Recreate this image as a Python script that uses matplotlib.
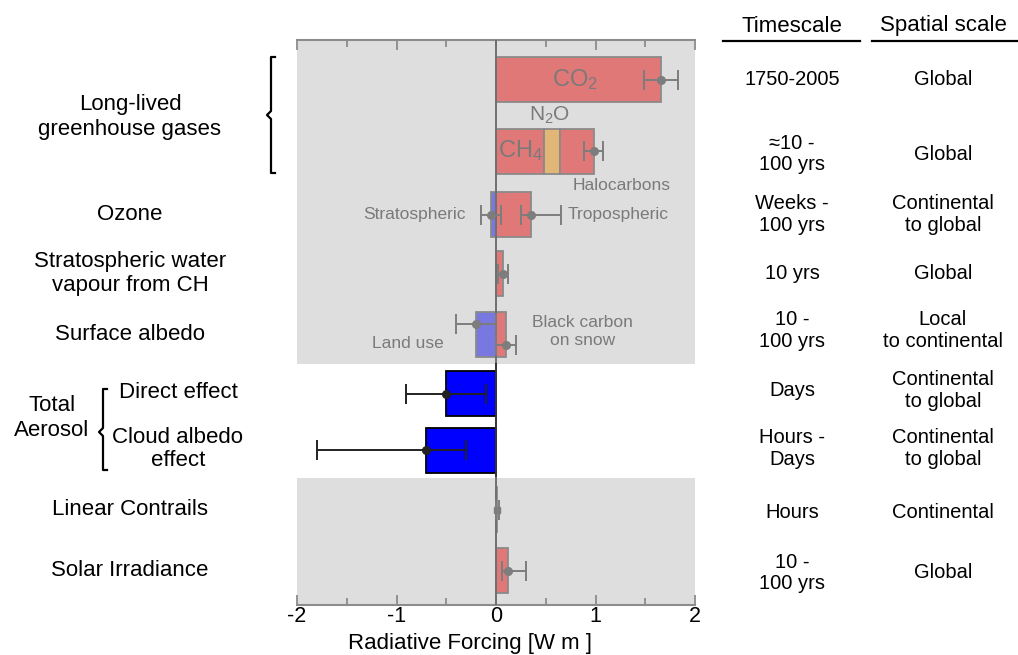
import numpy as np
import matplotlib
matplotlib.use("Agg")
import matplotlib.pyplot as plt
from matplotlib.transforms import blended_transform_factory
from matplotlib.lines import Line2D

plt.rcParams['font.family'] = ['Liberation Sans', 'DejaVu Sans']
plt.rcParams['mathtext.fontset'] = 'custom'
plt.rcParams['mathtext.rm'] = 'Liberation Sans'
plt.rcParams['mathtext.it'] = 'Liberation Sans'
plt.rcParams['axes.unicode_minus'] = False

# ---- radiative forcing values [W m-2] with uncertainty ranges (low, high) ----
co2 = 1.66
co2_range = (1.49, 1.83)

ghg_parts = ["CH$_4$", "N$_2$O", "Halocarbons"]
ghg_values = [0.48, 0.16, 0.34]
ghg_range = (0.88, 1.08)

ozone_strat = -0.05
ozone_strat_range = (-0.15, 0.05)
ozone_trop = 0.35
ozone_trop_range = (0.25, 0.65)

strat_h2o = 0.07
strat_h2o_range = (0.02, 0.12)

land_use = -0.20
land_use_range = (-0.40, 0.00)
bc_snow = 0.10
bc_snow_range = (0.00, 0.20)

aerosol_direct = -0.50
aerosol_direct_range = (-0.90, -0.10)
aerosol_cloud = -0.70
aerosol_cloud_range = (-1.80, -0.30)

contrails = 0.01
contrails_range = (0.003, 0.03)

solar = 0.12
solar_range = (0.06, 0.30)

row_labels = ["Long-lived\ngreenhouse gases", "Ozone", "Stratospheric water\nvapour from CH",
              "Surface albedo", "Linear Contrails", "Solar Irradiance"]
aerosol_labels = ["Direct effect", "Cloud albedo\neffect"]
timescales = ["1750-2005", "\u224810 -\n100 yrs", "Weeks -\n100 yrs", "10 yrs", "10 -\n100 yrs",
              "Days", "Hours -\nDays", "Hours", "10 -\n100 yrs"]
spatial_scales = ["Global", "Global", "Continental\nto global", "Global", "Local\nto continental",
                  "Continental\nto global", "Continental\nto global", "Continental", "Global"]
x_ticks = [-2, -1, 0, 1, 2]

# ---- layout ----
W, H = 1018, 655
fig = plt.figure(figsize=(W / 100, H / 100), dpi=100)
ax = fig.add_axes([297 / W, 1 - 605 / H, 398 / W, 565 / H])

# vertical row positions (axis units, top to bottom)
ypos = dict(co2=39.5, ghg=111, ozone=174.5, h2o=233.5, albedo=294.5,
            direct=353.5, cloud=410, contrails=469.5, solar=530.5)
table_y = [39.5, 114, 174.5, 233.5, 290.5, 350.5, 408.5, 472, 533]
bar_h = 45

RED = '#e07878'
TAN = '#e2b676'
LBLUE = '#7878e0'
BLUE = '#0000ff'
EDGE = '#8a8a8a'
GREY_TXT = '#7a7a7a'
ERR = '#7d7d7d'

ax.set_xlim(-2, 2)
ax.set_ylim(565, 0)
ax.axhspan(0, 324, color='#dedede', zorder=0, lw=0)
ax.axhspan(438, 565, color='#dedede', zorder=0, lw=0)


def err(x, y, rng, color=ERR):
    ax.errorbar([x], [y], xerr=[[x - rng[0]], [rng[1] - x]], fmt='o', color=color,
                ms=5.5, capsize=7, elinewidth=1.4, capthick=1.4, zorder=5)


bar_kw = dict(height=bar_h, edgecolor=EDGE, linewidth=1.3, zorder=3)

# CO2
ax.barh(ypos['co2'], co2, left=0, color=RED, **bar_kw)
err(co2, ypos['co2'], co2_range)

# CH4, N2O, halocarbons stacked
lefts = np.concatenate([[0], np.cumsum(ghg_values)[:-1]])
ax.barh([ypos['ghg']] * 3, ghg_values, left=lefts, color=[RED, TAN, RED], **bar_kw)
err(float(np.sum(ghg_values)), ypos['ghg'], ghg_range)

# Ozone
ax.barh(ypos['ozone'], ozone_strat, left=0, color=LBLUE, **bar_kw)
ax.barh(ypos['ozone'], ozone_trop, left=0, color=RED, **bar_kw)
err(ozone_strat, ypos['ozone'], ozone_strat_range)
err(ozone_trop, ypos['ozone'], ozone_trop_range)

# Stratospheric water vapour
ax.barh(ypos['h2o'], strat_h2o, left=0, color=RED, **bar_kw)
err(strat_h2o, ypos['h2o'], strat_h2o_range)

# Surface albedo
ax.barh(ypos['albedo'], land_use, left=0, color=LBLUE, **bar_kw)
ax.barh(ypos['albedo'], bc_snow, left=0, color=RED, **bar_kw)
err(land_use, ypos['albedo'] - 11, land_use_range)
err(bc_snow, ypos['albedo'] + 10, bc_snow_range)

# Aerosols
ax.barh(ypos['direct'], aerosol_direct, left=0, height=bar_h, color=BLUE,
        edgecolor='black', linewidth=1.3, zorder=3)
ax.barh(ypos['cloud'], aerosol_cloud, left=0, height=bar_h, color=BLUE,
        edgecolor='black', linewidth=1.3, zorder=3)
err(aerosol_direct, ypos['direct'], aerosol_direct_range, color='#222222')
err(aerosol_cloud, ypos['cloud'], aerosol_cloud_range, color='#222222')

# Contrails
ax.barh(ypos['contrails'], contrails, left=0, color='#e8d0d0', **bar_kw)
ax.errorbar([contrails], [ypos['contrails']],
            xerr=[[contrails - contrails_range[0]], [contrails_range[1] - contrails]],
            fmt='s', color=ERR, ms=4, capsize=7, elinewidth=1.4, capthick=1.4, zorder=5)

# Solar
ax.barh(ypos['solar'], solar, left=0, color=RED, **bar_kw)
err(solar, ypos['solar'], solar_range)

# zero line: grey over shaded bands, dark over the aerosol band
ax.plot([0, 0], [0, 324], color='#707070', lw=1.4, zorder=4)
ax.plot([0, 0], [324, 438], color='#333333', lw=1.4, zorder=4)
ax.plot([0, 0], [438, 565], color='#707070', lw=1.4, zorder=4)

# labels inside the plot
ax.text(0.79, ypos['co2'], "CO$_2$", color=GREY_TXT, fontsize=17, ha='center', va='center', zorder=6)
ax.text(0.245, ypos['ghg'] - 0.5, ghg_parts[0], color=GREY_TXT, fontsize=17, ha='center', va='center', zorder=6)
ax.text(0.54, ypos['ghg'] - 36, ghg_parts[1], color=GREY_TXT, fontsize=15, ha='center', va='center', zorder=6)
ax.text(1.26, ypos['ghg'] + 35, ghg_parts[2], color=GREY_TXT, fontsize=12.5, ha='center', va='center', zorder=6)
ax.text(-0.3, ypos['ozone'], "Stratospheric", color=GREY_TXT, fontsize=12.5, ha='right', va='center', zorder=6)
ax.text(0.72, ypos['ozone'], "Tropospheric", color=GREY_TXT, fontsize=12.5, ha='left', va='center', zorder=6)
ax.text(0.87, ypos['albedo'] - 3, "Black carbon\non snow", color=GREY_TXT, fontsize=12.5,
        ha='center', va='center', linespacing=1.2, zorder=6)
ax.text(-0.53, ypos['albedo'] + 9, "Land use", color=GREY_TXT, fontsize=12.5, ha='right', va='center', zorder=6)

# axes styling
for s in ['left', 'right']:
    ax.spines[s].set_visible(False)
for s in ['top', 'bottom']:
    ax.spines[s].set_color('#8c8c8c')
    ax.spines[s].set_linewidth(1.5)
ax.set_yticks([])
ax.set_xticks(x_ticks)
ax.set_xticklabels([str(t) for t in x_ticks], fontsize=15.5)
ax.set_xticks([-1.5, -0.5, 0.5, 1.5], minor=True)
ax.tick_params(axis='x', which='both', top=True, bottom=True, direction='in',
               color='#8c8c8c', width=1.3, pad=1)
ax.tick_params(axis='x', which='major', length=7)
ax.tick_params(axis='x', which='minor', length=5)
fig.text(470 / W, 1 - 649 / H, "Radiative Forcing [W m ]", fontsize=16, ha='center', va='baseline')

# row labels on the left
tr = blended_transform_factory(fig.transFigure, ax.transData)
left_rows = [117 - 40, ypos['ozone'], ypos['h2o'], ypos['albedo'], ypos['contrails'], ypos['solar']]
for lab, y in zip(row_labels, left_rows):
    fig.text(130 / W, y, lab, transform=tr, fontsize=16, ha='center', va='center', linespacing=1.22)
fig.text(52 / W, 418 - 40, "Total\nAerosol", transform=tr, fontsize=16, ha='center', va='center',
         linespacing=1.22)
fig.text(178 / W, ypos['direct'] - 1, aerosol_labels[0], transform=tr, fontsize=16, ha='center', va='center')
fig.text(178 / W, ypos['cloud'] - 1, aerosol_labels[1], transform=tr, fontsize=16, ha='center',
         va='center', linespacing=1.12)


# braces grouping the rows
def brace(x, y0, y1, ymid, serif=4, notch=4):
    px = [x + serif, x, x, x - notch, x, x, x + serif]
    py = [y0, y0, ymid - 4, ymid, ymid + 4, y1, y1]
    fig.add_artist(Line2D([p / W for p in px], [1 - p / H for p in py], color='black',
                          lw=1.6, transform=fig.transFigure))


brace(271, 57, 173, 115)
brace(103, 389, 470, 432)

# timescale and spatial scale columns
fig.text(792 / W, 1 - 26 / H, "Timescale", fontsize=16, ha='center', va='center')
fig.text(943 / W, 1 - 26 / H, "Spatial scale", fontsize=16, ha='center', va='center')
fig.add_artist(Line2D([723 / W, 860 / W], [1 - 41 / H] * 2, color='black', lw=1.6, transform=fig.transFigure))
fig.add_artist(Line2D([872 / W, 1018 / W], [1 - 41 / H] * 2, color='black', lw=1.6, transform=fig.transFigure))
for ts, sp, y in zip(timescales, spatial_scales, table_y):
    fig.text(792 / W, y, ts, transform=tr, fontsize=14.5, ha='center', va='center', linespacing=1.15)
    fig.text(943 / W, y, sp, transform=tr, fontsize=14.5, ha='center', va='center', linespacing=1.15)

fig.savefig("out.png", dpi=100)
